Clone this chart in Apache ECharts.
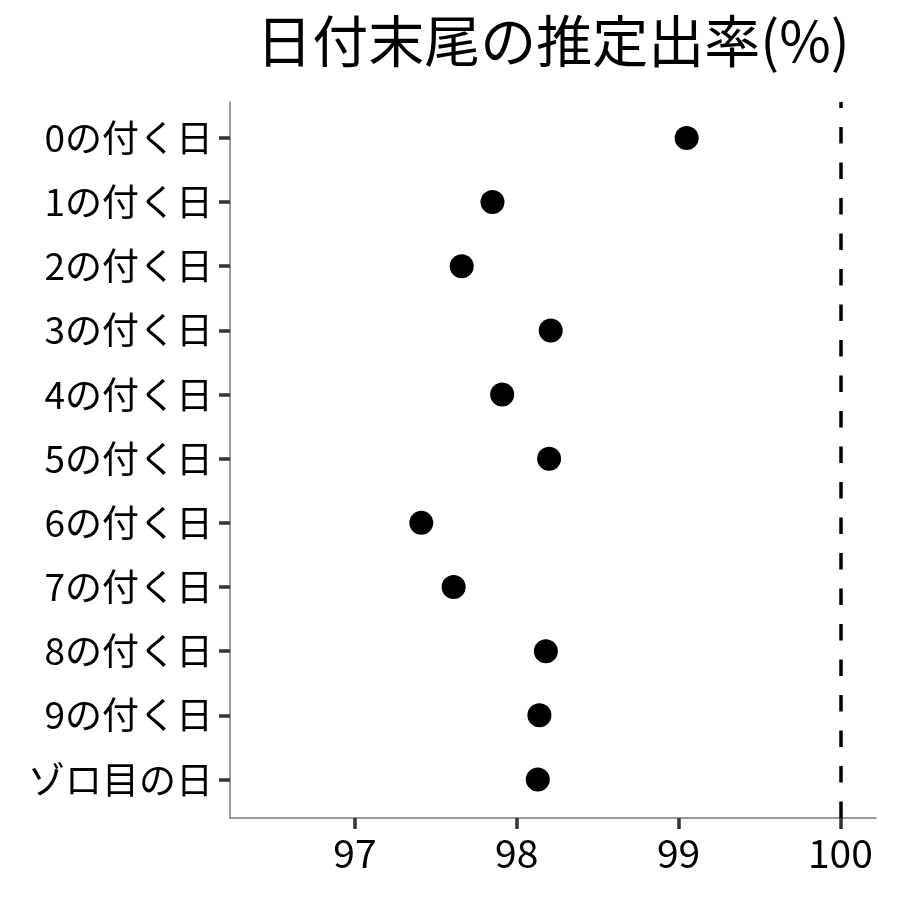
<!DOCTYPE html>
<html>
<head>
<meta charset="utf-8">
<script src="https://cdn.jsdelivr.net/npm/echarts@6/dist/echarts.min.js"></script>
<style>
  html, body { margin: 0; padding: 0; background: #fff; }
  #main { width: 900px; height: 900px; }
</style>
</head>
<body>
<div id="main"></div>
<script>
// カテゴリ（上から順に）
var dayLabels = ['0の付く日', '1の付く日', '2の付く日', '3の付く日', '4の付く日',
  '5の付く日', '6の付く日', '7の付く日', '8の付く日', '9の付く日', 'ゾロ目の日'];
// 推定出率(%)
var payoutRate = [99.05, 97.85, 97.66, 98.21, 97.91, 98.20, 97.41, 97.61, 98.18, 98.14, 98.13];
var xTicks = [97, 98, 99, 100];
var refLine = 100;

var font = '"Noto Sans CJK JP", "Noto Sans", sans-serif';
var yMin = -0.56, yMax = 10.6;

var chart = echarts.init(document.getElementById('main'));

var points = payoutRate.map(function (v, i) { return [v, i]; });
var yIdx = dayLabels.map(function (d, i) { return i; });

var option = {
  backgroundColor: '#fff',
  animation: false,
  title: {
    text: '日付末尾の推定出率(%)',
    left: 548,
    textAlign: 'center',
    top: 8,
    textStyle: { fontFamily: font, fontSize: 56, fontWeight: 'normal', color: '#000' }
  },
  grid: { left: 230, right: 24, top: 102, bottom: 82 },
  xAxis: {
    type: 'value',
    min: 96.228,
    max: 100.22,
    splitLine: { show: false },
    axisLine: { show: true, onZero: false, lineStyle: { color: '#7a7a7a', width: 1.5 } },
    axisTick: { show: true, length: 11, customValues: xTicks, lineStyle: { color: '#333', width: 3.5 } },
    axisLabel: {
      customValues: xTicks,
      margin: 16,
      fontFamily: font, fontSize: 39, color: '#000'
    }
  },
  yAxis: {
    type: 'value',
    inverse: true,
    min: yMin,
    max: yMax,
    splitLine: { show: false },
    axisLine: { show: true, onZero: false, lineStyle: { color: '#7a7a7a', width: 1.5 } },
    axisTick: { show: true, length: 11, customValues: yIdx, lineStyle: { color: '#333', width: 3.5 } },
    axisLabel: {
      customValues: yIdx,
      margin: 17,
      fontFamily: font, fontSize: 37, color: '#000',
      formatter: function (v) { return dayLabels[Math.round(v)]; }
    }
  },
  series: [{
    type: 'scatter',
    data: points,
    symbol: 'circle',
    symbolSize: 24,
    itemStyle: { color: '#000', opacity: 1 },
    markLine: {
      silent: true,
      symbol: 'none',
      label: { show: false },
      lineStyle: { color: '#000', width: 3.5, type: [16.5, 19], dashOffset: 0, opacity: 1 },
      // 下端から上端へ描く（破線の位相を合わせるため）
      data: [[{ coord: [refLine, yMax] }, { coord: [refLine, yMin] }]]
    }
  }]
};

chart.setOption(option);
</script>
</body>
</html>
